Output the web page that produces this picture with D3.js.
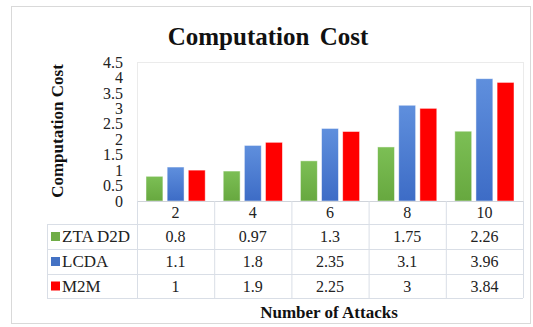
<!DOCTYPE html>
<html>
<head>
<meta charset="utf-8">
<script src="https://cdn.jsdelivr.net/npm/d3@7/dist/d3.min.js"></script>
<style>
  html, body { margin: 0; padding: 0; background: #fff; }
  svg text { font-family: "Liberation Serif", "Times New Roman", serif !important; }
</style>
</head>
<body>
<svg id="chart" width="533" height="327"></svg>
<script>
// Data
const categories = ["2", "4", "6", "8", "10"];
const seriesNames = ["ZTA D2D", "LCDA", "M2M"];
const ztaD2D = [0.8, 0.97, 1.3, 1.75, 2.26];
const lcda = [1.1, 1.8, 2.35, 3.1, 3.96];
const m2m = [1, 1.9, 2.25, 3, 3.84];
const yTicks = [0, 0.5, 1, 1.5, 2, 2.5, 3, 3.5, 4, 4.5];

const seriesValues = [ztaD2D, lcda, m2m];
const colorsTop = ["#7cbf55", "#5f8fdd", "#ff0000"];
const colorsBottom = ["#67a83f", "#3d6cc6", "#ff0000"];
const keyColors = ["#70ad47", "#4472c4", "#ff0000"];

const svg = d3.select("#chart");

// Outer chart frame
svg.append("rect")
  .attr("x", 11.5).attr("y", 6.5)
  .attr("width", 519).attr("height", 317)
  .attr("fill", "#fff").attr("stroke", "#d9d9d9");

// Gradients for bars
const defs = svg.append("defs");
seriesNames.forEach((s, i) => {
  const g = defs.append("linearGradient")
    .attr("id", "grad" + i)
    .attr("x1", 0).attr("y1", 0).attr("x2", 0).attr("y2", 1);
  g.append("stop").attr("offset", "0%").attr("stop-color", colorsTop[i]);
  g.append("stop").attr("offset", "100%").attr("stop-color", colorsBottom[i]);
});

const plotLeft = 137, plotRight = 523, plotTop = 62, plotBottom = 201;
const legendLeft = 47;
const rowEdges = [201, 224, 249, 274, 298];

const x = d3.scaleBand().domain(categories).range([plotLeft, plotRight]);
const inner = 9;
const x1 = d3.scaleBand().domain(d3.range(seriesNames.length))
  .range([inner, x.bandwidth() - inner]).paddingInner(0.2);
const y = d3.scaleLinear().domain([0, 4.5]).range([plotBottom, plotTop]);

// Plot area border
svg.append("rect")
  .attr("x", plotLeft + 0.5).attr("y", plotTop + 0.5)
  .attr("width", plotRight - plotLeft).attr("height", plotBottom - plotTop)
  .attr("fill", "none").attr("stroke", "#ebebeb");

// Y axis (labels only)
const yAxis = d3.axisLeft(y).tickValues(yTicks).tickSize(0).tickPadding(0)
  .tickFormat(d3.format(""));
const yg = svg.append("g").attr("transform", "translate(123,0)").call(yAxis);
yg.select(".domain").remove();
yg.attr("font-family", null).attr("font-size", null);
yg.selectAll("text")
  .attr("font-size", 16).attr("fill", "#222");

// Bars
const groups = svg.append("g").selectAll("g")
  .data(categories).join("g")
  .attr("transform", d => `translate(${x(d)},0)`);
groups.selectAll("rect")
  .data((d, ci) => seriesValues.map((vals, si) => ({ si, v: vals[ci] })))
  .join("rect")
  .attr("x", d => x1(d.si))
  .attr("width", x1.bandwidth())
  .attr("y", d => y(d.v))
  .attr("height", d => y(0) - y(d.v))
  .attr("fill", d => `url(#grad${d.si})`)
  .attr("stroke", "rgba(255,255,255,0.6)")
  .attr("stroke-width", 0.8);

// Data table grid
const gridColor = "#d9dee6";
const grid = svg.append("g").attr("stroke", gridColor).attr("fill", "none");
grid.append("line").attr("x1", plotLeft).attr("x2", plotRight)
  .attr("y1", rowEdges[0] + 0.5).attr("y2", rowEdges[0] + 0.5).attr("stroke", "#d0d4da");
rowEdges.slice(1).forEach(yy => {
  grid.append("line").attr("x1", legendLeft).attr("x2", plotRight)
    .attr("y1", yy + 0.5).attr("y2", yy + 0.5);
});
categories.forEach(c => {
  grid.append("line").attr("x1", x(c) + 0.5).attr("x2", x(c) + 0.5)
    .attr("y1", rowEdges[0]).attr("y2", rowEdges[4]);
});
grid.append("line").attr("x1", plotRight + 0.5).attr("x2", plotRight + 0.5)
  .attr("y1", rowEdges[0]).attr("y2", rowEdges[4]);
grid.append("line").attr("x1", legendLeft + 0.5).attr("x2", legendLeft + 0.5)
  .attr("y1", rowEdges[1]).attr("y2", rowEdges[4]);

// Category header row
svg.append("g").selectAll("text").data(categories).join("text")
  .attr("x", d => x(d) + x.bandwidth() / 2)
  .attr("y", (rowEdges[0] + rowEdges[1]) / 2)
  .attr("dy", "0.35em")
  .attr("text-anchor", "middle")
  .attr("font-size", 16).attr("fill", "#222")
  .text(d => d);

// Value rows with legend keys
seriesNames.forEach((name, si) => {
  const cy = (rowEdges[si + 1] + rowEdges[si + 2]) / 2;
  svg.append("rect")
    .attr("x", 51).attr("y", cy - 4.5)
    .attr("width", 9).attr("height", 9)
    .attr("fill", keyColors[si]);
  svg.append("text")
    .attr("x", 62).attr("y", cy).attr("dy", "0.35em")
    .attr("font-size", 17).attr("fill", "#222")
    .text(name);
  svg.append("g").selectAll("text").data(seriesValues[si]).join("text")
    .attr("x", (d, i) => x(categories[i]) + x.bandwidth() / 2)
    .attr("y", cy).attr("dy", "0.35em")
    .attr("text-anchor", "middle")
    .attr("font-size", 16).attr("fill", "#222")
    .text(d => d);
});

// Title
svg.append("text")
  .attr("x", 268).attr("y", 45)
  .attr("text-anchor", "middle")
  .attr("font-size", 25).attr("font-weight", "bold").attr("fill", "#111")
  .attr("word-spacing", 4)
  .text("Computation Cost");

// Axis titles
svg.append("text")
  .attr("transform", "translate(63,131) rotate(-90)")
  .attr("text-anchor", "middle")
  .attr("font-size", 17).attr("font-weight", "bold").attr("fill", "#111")
  .text("Computation Cost");

svg.append("text")
  .attr("x", 329).attr("y", 318)
  .attr("text-anchor", "middle")
  .attr("font-size", 17).attr("font-weight", "bold").attr("fill", "#111")
  .text("Number of Attacks");
</script>
</body>
</html>
